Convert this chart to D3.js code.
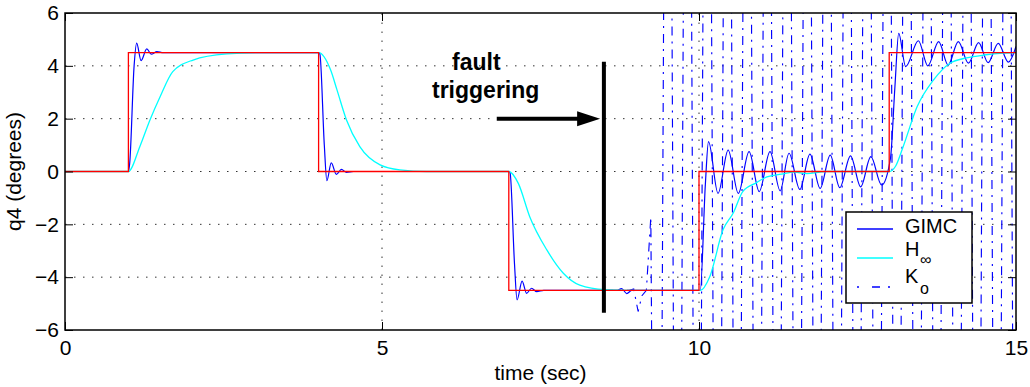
<!DOCTYPE html>
<html>
<head>
<meta charset="utf-8">
<script src="https://cdn.jsdelivr.net/npm/d3@7"></script>
<style>
  body { margin: 0; background: #fff; }
  text { font-family: "Liberation Sans", Arial, sans-serif; fill: #000; }
</style>
</head>
<body>
<svg id="chart" width="1030" height="387"></svg>
<script>
// reference command (red)
var ref = [[0,0],[1,0],[1,4.5],[4,4.5],[4,0],[7,0],[7,-4.5],[10,-4.5],[10,0],[13,0],[13,4.5],[15,4.5]];

// GIMC response, read at peaks / troughs
var gimc = [
  [0,0],[1.0,0],[1.02,0.3],[1.09,4.0],[1.13,4.86],[1.2,4.2],[1.29,4.64],[1.36,4.44],[1.45,4.54],[1.55,4.5],
  [4.0,4.5],[4.02,4.45],[4.09,1.0],[4.13,-0.35],[4.2,0.33],[4.28,-0.11],[4.36,0.08],[4.44,-0.03],[4.55,0],
  [7.0,0],[7.02,-0.05],[7.09,-3.5],[7.13,-4.86],[7.21,-4.15],[7.28,-4.61],[7.36,-4.42],[7.44,-4.55],[7.55,-4.5],
  [8.7,-4.5],[8.78,-4.43],[8.86,-4.62],[8.94,-4.5],
  [10.0,-4.5],[10.02,-4.5],[10.1,-0.5],[10.15,1.13],[10.3,-0.83],[10.46,0.81],[10.62,-0.83],[10.79,0.75],
  [10.95,-0.76],[11.12,0.75],[11.28,-0.73],[11.42,0.69],[11.59,-0.68],[11.75,0.66],[11.91,-0.64],[12.07,0.62],
  [12.22,-0.61],[12.39,0.59],[12.55,-0.58],[12.71,0.56],[12.88,-0.51],
  [13.02,0.5],[13.09,3.2],[13.15,5.23],[13.26,3.97],[13.46,4.95],[13.61,4.0],[13.78,4.92],[13.93,4.03],
  [14.09,4.92],[14.25,4.1],[14.41,4.88],[14.56,4.12],[14.72,4.85],[14.88,4.14],[15.0,4.73]
];

// H-infinity response
var hinf = [
  [0,0],[1.0,0],[1.18,0.94],[1.34,1.95],[1.5,2.83],[1.7,3.78],[2.02,4.22],[2.55,4.45],[3.07,4.5],[4.0,4.5],
  [4.19,3.84],[4.29,3.09],[4.44,1.95],[4.65,0.94],[4.97,0.25],[5.28,0.06],[5.7,0],[7.0,0],
  [7.15,-0.45],[7.33,-1.71],[7.6,-2.97],[7.86,-3.85],[8.12,-4.3],[8.52,-4.47],[9.0,-4.5],[10.02,-4.5],
  [10.17,-3.98],[10.38,-2.2],[10.54,-1.57],[10.69,-0.76],[10.91,-0.42],[11.07,-0.2],[11.3,-0.1],[11.5,-0.02],
  [11.7,-0.08],[12.0,0],[13.0,0],[13.1,0.2],[13.22,0.94],[13.44,2.45],[13.7,3.47],[13.96,4.1],[14.22,4.3],
  [14.5,4.41],[14.8,4.48],[15,4.5]
];

// Ko response (same as GIMC before the fault), goes unstable after ~9.3 s
var ko = [
  [8.5,-4.5],[8.9,-4.5],[8.97,-4.45],[9.04,-5.3],[9.1,-4.7],[9.17,-4.5],[9.24,-1.72],[9.35,-40],
  [9.51,40],[9.66,-40],[9.82,40],[9.97,-40],[10.13,40],[10.29,-40],[10.45,40],[10.6,-40],[10.76,40],
  [10.92,-40],[11.08,40],[11.23,-40],[11.39,40],[11.55,-40],[11.71,40],[11.86,-40],[12.02,40],[12.18,-40],
  [12.34,40],[12.49,-40],[12.65,40],[12.81,-40],[12.97,40],[13.12,-40],[13.28,40],[13.44,-40],[13.6,40],
  [13.75,-40],[13.91,40],[14.07,-40],[14.23,40],[14.38,-40],[14.54,40],[14.7,-40],[14.86,40],[15.01,-40]
];

var xTicks = [0, 5, 10, 15];
var yTicks = [-6, -4, -2, 0, 2, 4, 6];

// fault marker: time, bar top / bottom, arrow tail time, arrow height
var faultT = 8.5, faultTop = 4.15, faultBottom = -5.35;
var arrowFrom = 6.81, arrowTo = 8.44, arrowY = 2;

var svg = d3.select('#chart');
var margin = {top: 13, right: 14, bottom: 57, left: 65};
var W = 1030, H = 387;

var x = d3.scaleLinear().domain([0, 15]).range([margin.left, W - margin.right]);
var y = d3.scaleLinear().domain([-6, 6]).range([H - margin.bottom, margin.top]);

svg.append('clipPath').attr('id', 'clip')
  .append('rect')
  .attr('x', x(0)).attr('y', y(6))
  .attr('width', x(15) - x(0)).attr('height', y(-6) - y(6));

// dotted grid
var grid = svg.append('g').attr('stroke', '#333').attr('stroke-width', 1).attr('stroke-dasharray', '1.5,7.5');
grid.selectAll('.gx').data(xTicks.slice(1, -1)).join('line')
  .attr('x1', d => x(d)).attr('x2', d => x(d))
  .attr('y1', y(-6)).attr('y2', y(6));
grid.selectAll('.gy').data(yTicks.slice(1, -1)).join('line')
  .attr('y1', d => y(d)).attr('y2', d => y(d))
  .attr('x1', x(0)).attr('x2', x(15));

var plot = svg.append('g').attr('clip-path', 'url(#clip)').attr('fill', 'none');

var smooth = d3.line().x(d => x(d[0])).y(d => y(d[1])).curve(d3.curveMonotoneX);
var straight = d3.line().x(d => x(d[0])).y(d => y(d[1]));

var koDash = '9,6,2,6';
plot.append('path').datum(ko).attr('d', straight)
  .attr('stroke', '#0000ff').attr('stroke-width', 1.15).attr('stroke-dasharray', koDash);
plot.append('path').datum(gimc).attr('d', smooth)
  .attr('stroke', '#0000ff').attr('stroke-width', 1.2);
plot.append('path').datum(hinf).attr('d', smooth)
  .attr('stroke', '#00ffff').attr('stroke-width', 1.3);
plot.append('path').datum(ref).attr('d', straight)
  .attr('stroke', '#ff0000').attr('stroke-width', 1.3);

// fault annotation
svg.append('line')
  .attr('x1', x(faultT)).attr('x2', x(faultT))
  .attr('y1', y(faultTop)).attr('y2', y(faultBottom))
  .attr('stroke', '#000').attr('stroke-width', 4);
svg.append('line')
  .attr('x1', x(arrowFrom)).attr('x2', x(arrowTo) - 20)
  .attr('y1', y(arrowY)).attr('y2', y(arrowY))
  .attr('stroke', '#000').attr('stroke-width', 4);
svg.append('path')
  .attr('d', `M${x(arrowTo)},${y(arrowY)} l-23,-7.5 l0,15 z`)
  .attr('fill', '#000');
svg.append('text').attr('x', 452).attr('y', 70)
  .attr('font-size', 23).attr('font-weight', 'bold').text('fault');
svg.append('text').attr('x', 432).attr('y', 98)
  .attr('font-size', 23).attr('font-weight', 'bold').text('triggering');

// axes, ticks inward on all four sides
var fs = 21;
svg.append('g').attr('transform', `translate(0,${y(-6)})`)
  .call(d3.axisBottom(x).tickValues(xTicks).tickSizeInner(-8).tickSizeOuter(0).tickPadding(10));
svg.append('g').attr('transform', `translate(${x(0)},0)`)
  .call(d3.axisLeft(y).tickValues(yTicks).tickSizeInner(-8).tickSizeOuter(0).tickPadding(6));
svg.append('g').attr('transform', `translate(0,${y(6)})`)
  .call(d3.axisTop(x).tickValues(xTicks).tickSizeInner(-8).tickSizeOuter(0).tickFormat(''));
svg.append('g').attr('transform', `translate(${x(15)},0)`)
  .call(d3.axisRight(y).tickValues(yTicks).tickSizeInner(-8).tickSizeOuter(0).tickFormat(''));
svg.selectAll('.domain').remove();
svg.selectAll('.tick line').attr('stroke', '#000');
svg.selectAll('.tick text').attr('font-size', fs).attr('font-family', '"Liberation Sans", Arial, sans-serif').attr('fill', '#000');

svg.append('rect')
  .attr('x', x(0)).attr('y', y(6))
  .attr('width', x(15) - x(0)).attr('height', y(-6) - y(6))
  .attr('fill', 'none').attr('stroke', '#000').attr('stroke-width', 1.5);

svg.append('text').attr('x', (x(0) + x(15)) / 2).attr('y', 380)
  .attr('text-anchor', 'middle').attr('font-size', fs).text('time (sec)');
svg.append('text')
  .attr('transform', `translate(20.5,${(y(-6) + y(6)) / 2}) rotate(-90)`)
  .attr('text-anchor', 'middle').attr('font-size', fs).text('q4 (degrees)');

// legend
var lg = svg.append('g').attr('transform', 'translate(846,212)');
lg.append('rect').attr('width', 126).attr('height', 91)
  .attr('fill', '#fff').attr('stroke', '#000').attr('stroke-width', 1.5);
var items = [
  {name: 'GIMC', sub: '', color: '#0000ff', dash: null, y: 17, ty: 21},
  {name: 'H', sub: '\u221e', color: '#00ffff', dash: null, y: 46, ty: 44},
  {name: 'K', sub: 'o', color: '#0000ff', dash: '2,13,8,8,2,20', y: 75, ty: 71}
];
items.forEach(function(it) {
  lg.append('line').attr('x1', 11).attr('x2', 47).attr('y1', it.y).attr('y2', it.y)
    .attr('stroke', it.color).attr('stroke-width', 1.3)
    .attr('stroke-dasharray', it.dash);
  lg.append('text').attr('x', 59).attr('y', it.ty).attr('font-size', 20).text(it.name);
  if (it.sub) {
    lg.append('text').attr('x', 74).attr('y', it.y + 7).attr('font-size', 16).text(it.sub);
  }
});
</script>
</body>
</html>
